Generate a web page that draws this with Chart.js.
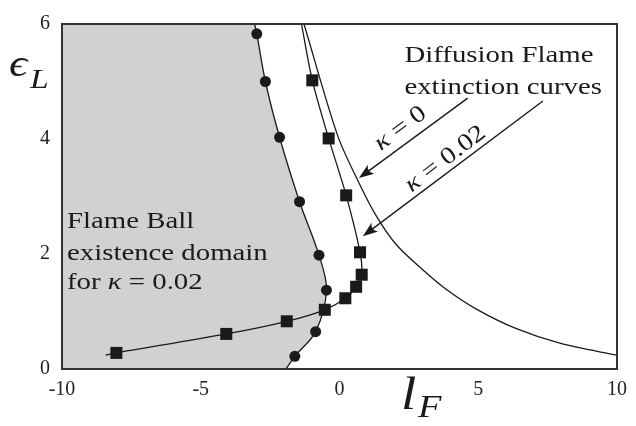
<!DOCTYPE html>
<html>
<head>
<meta charset="utf-8">
<script src="https://cdn.jsdelivr.net/npm/chart.js@4.4.1/dist/chart.umd.min.js"></script>
<style>
  html, body { margin: 0; padding: 0; background: #fff; }
  #wrap { width: 636px; height: 426px; }
</style>
</head>
<body>
<div id="wrap"><canvas id="extChart" width="636" height="426"></canvas></div>
<script>
// Flame ball existence boundary for kappa = 0.02 (circles), bottom edge to top edge
const ballX = [-1.93, -1.61, -0.86, -0.47, -0.74, -1.44, -2.16, -2.67, -2.98, -3.06];
const ballY = [0.00, 0.22, 0.65, 1.37, 1.98, 2.91, 4.03, 5.00, 5.83, 6.00];

// Diffusion flame extinction curve, kappa = 0.02 (squares)
const ext02X = [-8.43, -8.04, -4.08, -1.90, -0.53, 0.21, 0.60, 0.80, 0.74, 0.24, -0.39, -0.98, -1.37];
const ext02Y = [0.24, 0.28, 0.61, 0.83, 1.03, 1.23, 1.43, 1.64, 2.03, 3.02, 4.01, 5.02, 6.00];

// Diffusion flame extinction curve, kappa = 0
const ext0X = [-1.28, -0.06, 0.73, 1.34, 2.05, 3.01, 3.83, 4.90, 6.33, 8.00, 10.0];
const ext0Y = [6.00, 4.05, 3.21, 2.65, 2.16, 1.72, 1.39, 1.05, 0.71, 0.44, 0.24];

const xTicks = [-10, -5, 0, 5, 10];
const yTicks = [0, 2, 4, 6];

const INK = '#1a1a1a';
const SERIF = '"Liberation Serif", "DejaVu Serif", serif';
const STRETCH = 1.2;

const pts = (xs, ys) => xs.map((x, i) => ({ x, y: ys[i] }));
// the first and last samples only carry the line to the frame, no marker
const innerRadius = r => c => (c.dataIndex === 0 || c.dataIndex === c.dataset.data.length - 1) ? 0 : r;

// text made of roman / italic runs, optionally rotated
function drawRuns(ctx, x, y, runs, size, opts = {}) {
  ctx.save();
  ctx.translate(x, y);
  if (opts.rotate) ctx.rotate(opts.rotate);
  ctx.scale(STRETCH, 1);
  ctx.fillStyle = INK;
  ctx.textBaseline = opts.baseline || 'alphabetic';
  let total = 0;
  for (const [t, it] of runs) {
    ctx.font = (it ? 'italic ' : '') + size + 'px ' + SERIF;
    total += ctx.measureText(t).width;
  }
  let cx = opts.center ? -total / 2 : 0;
  for (const [t, it] of runs) {
    ctx.font = (it ? 'italic ' : '') + size + 'px ' + SERIF;
    ctx.fillText(t, cx, 0);
    cx += ctx.measureText(t).width;
  }
  ctx.restore();
}

function arrow(ctx, x0, y0, x1, y1) {
  const ang = Math.atan2(y1 - y0, x1 - x0);
  const len = 15, half = 5.5;
  ctx.beginPath();
  ctx.moveTo(x0, y0);
  ctx.lineTo(x1 - Math.cos(ang) * len * 0.7, y1 - Math.sin(ang) * len * 0.7);
  ctx.stroke();
  ctx.save();
  ctx.translate(x1, y1);
  ctx.rotate(ang);
  ctx.beginPath();
  ctx.moveTo(0, 0);
  ctx.lineTo(-len, -half);
  ctx.quadraticCurveTo(-len * 0.65, 0, -len, half);
  ctx.closePath();
  ctx.fill();
  ctx.restore();
}

const decor = {
  id: 'decor',
  beforeDatasetsDraw(chart) {
    // shaded flame ball domain: left of the boundary curve
    const { ctx, chartArea: a } = chart;
    const line = chart.getDatasetMeta(0).dataset;
    ctx.save();
    ctx.beginPath();
    ctx.rect(a.left, a.top, a.width, a.height);
    ctx.clip();
    ctx.beginPath();
    line.path(ctx);
    ctx.lineTo(a.left, a.top);
    ctx.lineTo(a.left, a.bottom);
    ctx.closePath();
    ctx.fillStyle = '#d0d1d3';
    ctx.fill();
    ctx.restore();
  },
  afterDatasetsDraw(chart) {
    const { ctx, chartArea: a, scales: { x, y } } = chart;
    const px = v => x.getPixelForValue(v);
    const py = v => y.getPixelForValue(v);

    ctx.save();
    ctx.strokeStyle = '#333';
    ctx.lineWidth = 2;
    ctx.strokeRect(a.left, a.top, a.width, a.height);

    ctx.strokeStyle = INK;
    ctx.fillStyle = INK;
    ctx.lineWidth = 1.4;
    arrow(ctx, px(4.62), py(4.71), px(0.70), py(3.32));
    arrow(ctx, px(7.33), py(4.66), px(0.84), py(2.31));

    drawRuns(ctx, px(2.2), py(4.18), [['κ', true], [' = 0', false]], 24,
      { rotate: -0.64, center: true, baseline: 'middle' });
    drawRuns(ctx, px(3.82), py(3.65), [['κ', true], [' = 0.02', false]], 24,
      { rotate: -0.65, center: true, baseline: 'middle' });

    drawRuns(ctx, px(2.34), py(5.34), [['Diffusion Flame', false]], 24);
    drawRuns(ctx, px(2.34), py(4.79), [['extinction curves', false]], 24);

    drawRuns(ctx, px(-9.82), py(2.45), [['Flame Ball', false]], 24);
    drawRuns(ctx, px(-9.82), py(1.89), [['existence domain', false]], 24);
    drawRuns(ctx, px(-9.82), py(1.39), [['for ', false], ['κ', true], [' = 0.02', false]], 24);

    // axis titles
    drawRuns(ctx, 9, 76, [['ϵ', true]], 38);
    drawRuns(ctx, 30, 88, [['L', true]], 28);
    drawRuns(ctx, 401, 409, [['l', true]], 46);
    drawRuns(ctx, 418, 417, [['F', true]], 32);
    ctx.restore();
  }
};

const tickFont = { family: SERIF, size: 20 };

new Chart(document.getElementById('extChart'), {
  type: 'scatter',
  data: {
    datasets: [
      {
        label: 'Flame ball boundary',
        data: pts(ballX, ballY),
        showLine: true,
        tension: 0.35,
        borderColor: INK,
        borderWidth: 1.3,
        pointStyle: 'circle',
        pointRadius: innerRadius(5.5),
        pointBackgroundColor: INK,
        pointBorderColor: INK,
        pointBorderWidth: 0
      },
      {
        label: 'Extinction kappa 0.02',
        data: pts(ext02X, ext02Y),
        showLine: true,
        tension: 0.3,
        borderColor: INK,
        borderWidth: 1.3,
        pointStyle: 'rect',
        pointRadius: innerRadius(8.5),
        pointBackgroundColor: INK,
        pointBorderColor: INK,
        pointBorderWidth: 0
      },
      {
        label: 'Extinction kappa 0',
        data: pts(ext0X, ext0Y),
        showLine: true,
        tension: 0.3,
        borderColor: INK,
        borderWidth: 1.3,
        pointRadius: 0
      }
    ]
  },
  options: {
    responsive: false,
    devicePixelRatio: 1,
    animation: false,
    layout: { padding: { top: 16, right: 13, left: 0, bottom: 0 } },
    plugins: { legend: { display: false }, tooltip: { enabled: false } },
    scales: {
      x: {
        type: 'linear',
        min: -10,
        max: 10,
        grid: { display: false, drawTicks: false },
        border: { display: false },
        afterBuildTicks: s => { s.ticks = xTicks.map(v => ({ value: v })); },
        afterFit: s => { s.height = 57; },
        ticks: { font: tickFont, color: '#222', padding: 9, maxRotation: 0, autoSkip: false }
      },
      y: {
        type: 'linear',
        min: 0,
        max: 6,
        grid: { display: false, drawTicks: false },
        border: { display: false },
        afterBuildTicks: s => { s.ticks = yTicks.map(v => ({ value: v })); },
        afterFit: s => { s.width = 62; },
        ticks: { font: tickFont, color: '#222', padding: 12, autoSkip: false }
      }
    }
  },
  plugins: [decor]
});
</script>
</body>
</html>
